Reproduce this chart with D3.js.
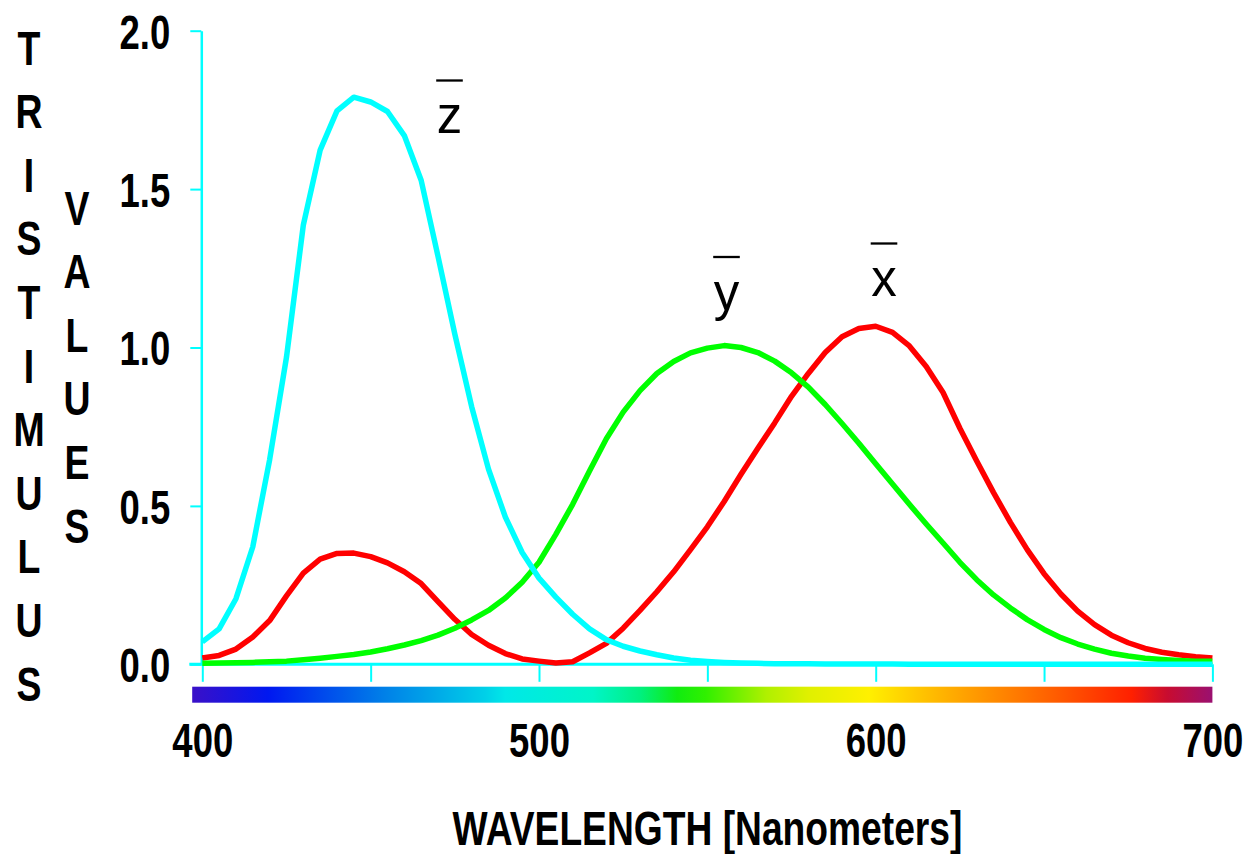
<!DOCTYPE html>
<html>
<head>
<meta charset="utf-8">
<script src="https://cdn.jsdelivr.net/npm/d3@7"></script>
<style>
  html, body { margin: 0; padding: 0; background: #ffffff; }
  svg { display: block; }
</style>
</head>
<body>
<svg id="chart" width="1245" height="854"></svg>
<script>
// ---------------- DATA ----------------
const wavelengths = [400,405,410,415,420,425,430,435,440,445,450,455,460,465,470,475,480,485,490,495,
  500,505,510,515,520,525,530,535,540,545,550,555,560,565,570,575,580,585,590,595,
  600,605,610,615,620,625,630,635,640,645,650,655,660,665,670,675,680,685,690,695,700];

const xBarValues = [0.020,0.028,0.048,0.086,0.138,0.216,0.288,0.332,0.350,0.351,0.340,0.320,0.292,0.255,0.198,0.142,0.094,0.060,0.034,0.017,
  0.010,0.004,0.008,0.036,0.066,0.114,0.170,0.229,0.292,0.362,0.434,0.514,0.600,0.682,0.762,0.846,0.918,0.984,1.034,1.060,
  1.067,1.048,1.005,0.940,0.858,0.745,0.642,0.542,0.448,0.362,0.286,0.222,0.168,0.125,0.092,0.068,0.050,0.038,0.030,0.024,0.020];

const yBarValues = [0.003,0.004,0.005,0.006,0.008,0.010,0.014,0.019,0.025,0.031,0.039,0.049,0.061,0.075,0.092,0.114,0.140,0.170,0.209,0.259,
  0.322,0.410,0.505,0.610,0.712,0.796,0.864,0.918,0.956,0.983,0.998,1.006,1.000,0.984,0.957,0.920,0.875,0.820,0.760,0.698,
  0.633,0.569,0.505,0.443,0.383,0.322,0.267,0.219,0.178,0.141,0.110,0.084,0.064,0.048,0.035,0.026,0.019,0.015,0.012,0.010,0.010];

const zBarValues = [0.071,0.112,0.207,0.371,0.646,0.969,1.386,1.623,1.747,1.790,1.775,1.745,1.669,1.528,1.288,1.042,0.813,0.616,0.465,0.353,
  0.272,0.212,0.158,0.112,0.078,0.057,0.042,0.030,0.020,0.013,0.009,0.006,0.004,0.003,0.002,0.002,0.002,0.001,0.001,0.001,
  0.001,0.001,0.000,0.000,0.000,0.000,0.000,0.000,0.000,0.000,0.000,0.000,0.000,0.000,0.000,0.000,0.000,0.000,0.000,0.000,0.000];

const xTickValues = [400,450,500,550,600,650,700];
const xTickLabels = ["400","","500","","600","","700"];
const yTickValues = [0,0.5,1.0,1.5,2.0];
const yTickLabels = ["0.0","0.5","1.0","1.5","2.0"];

const spectrumNm     = [397,419.5,454,484,490,516,530,541,549.5,567.6,580,598,612,627,652,676,686.6,700];
const spectrumColors = ["#3a10c8","#0018f0","#0080e8","#00d0e8","#00e8e8","#00f5c8","#00f080","#10ec10","#30f000","#b0f000","#e0f000","#fff000","#ffc800","#ffa000","#ff6000","#ff2000","#c80c30","#9a1070"];

const seriesNames = ["x", "y", "z"];
const xTitle = "WAVELENGTH [Nanometers]";
const yTitleCol1 = "TRISTIMULUS";
const yTitleCol2 = "VALUES";

// ---------------- CHART ----------------
const svg = d3.select("#chart");
const FONT = "'Liberation Sans', Arial, Helvetica, sans-serif";
const AXIS_COLOR = "#00ffff";

const x = d3.scaleLinear().domain([400, 700]).range([202.3, 1212.4]);
const y = d3.scaleLinear().domain([0, 2]).range([664.3, 30.7]);

// spectrum gradient bar
const defs = svg.append("defs");
const grad = defs.append("linearGradient")
  .attr("id", "spectrum")
  .attr("gradientUnits", "userSpaceOnUse")
  .attr("x1", x(spectrumNm[0])).attr("x2", x(spectrumNm[spectrumNm.length - 1]))
  .attr("y1", 0).attr("y2", 0);
const nmScale = d3.scaleLinear()
  .domain([spectrumNm[0], spectrumNm[spectrumNm.length - 1]]).range([0, 1]);
spectrumNm.forEach((nm, i) => {
  grad.append("stop").attr("offset", nmScale(nm)).attr("stop-color", spectrumColors[i]);
});
svg.append("rect")
  .attr("x", x(spectrumNm[0]))
  .attr("y", 686.7)
  .attr("width", x(spectrumNm[spectrumNm.length - 1]) - x(spectrumNm[0]))
  .attr("height", 16)
  .attr("fill", "url(#spectrum)");

// X axis
const xAxis = d3.axisBottom(x)
  .tickValues(xTickValues)
  .tickSize(17.5)
  .tickSizeOuter(0)
  .tickFormat((d, i) => xTickLabels[i]);
const gx = svg.append("g").attr("transform", `translate(0,${y(0)})`).call(xAxis);
gx.select(".domain").remove();
gx.selectAll(".tick line").attr("stroke", AXIS_COLOR).attr("stroke-width", 2);
gx.selectAll(".tick text")
  .attr("y", null).attr("dy", null)
  .attr("transform", "translate(0,92.7) scale(0.76,1)")
  .attr("fill", "#000")
  .style("font-family", FONT)
  .style("font-weight", "bold")
  .style("font-size", "48px");
svg.append("line")
  .attr("x1", x(400) - 13).attr("x2", x(700))
  .attr("y1", y(0)).attr("y2", y(0))
  .attr("stroke", AXIS_COLOR).attr("stroke-width", 3);

// Y axis
const yAxis = d3.axisLeft(y)
  .tickValues(yTickValues)
  .tickSize(11)
  .tickSizeOuter(0)
  .tickFormat((d, i) => yTickLabels[i]);
const gy = svg.append("g").attr("transform", `translate(${x(400) - 1},0)`).call(yAxis);
gy.select(".domain").attr("stroke", AXIS_COLOR).attr("stroke-width", 2.5);
gy.selectAll(".tick line").attr("stroke", AXIS_COLOR).attr("stroke-width", 2);
gy.selectAll(".tick text")
  .attr("x", null).attr("dy", null)
  .attr("transform", "translate(-31,17.3) scale(0.76,1)")
  .attr("fill", "#000")
  .style("font-family", FONT)
  .style("font-weight", "bold")
  .style("font-size", "48px");

// curves
const series = [
  { name: seriesNames[0], values: xBarValues, color: "#ff0000" },
  { name: seriesNames[1], values: yBarValues, color: "#00ff00" },
  { name: seriesNames[2], values: zBarValues, color: "#00ffff" }
];
const line = d3.line()
  .x((d, i) => x(wavelengths[i]))
  .y(d => y(d))
  .curve(d3.curveLinear);
svg.append("g").selectAll("path")
  .data(series)
  .join("path")
  .attr("d", s => line(s.values))
  .attr("fill", "none")
  .attr("stroke", s => s.color)
  .attr("stroke-width", 5.5)
  .attr("stroke-linejoin", "round")
  .attr("stroke-linecap", "butt");

// curve labels with overbars
const curveLabels = [
  { text: seriesNames[2], cx: 449.5, baseline: 133 },
  { text: seriesNames[1], cx: 726.5, baseline: 309.5 },
  { text: seriesNames[0], cx: 884, baseline: 296 }
];
const lg = svg.append("g");
curveLabels.forEach(l => {
  lg.append("text")
    .attr("x", l.cx).attr("y", l.baseline)
    .attr("text-anchor", "middle")
    .style("font-family", FONT)
    .style("font-size", "51px")
    .attr("fill", "#000")
    .text(l.text);
  lg.append("line")
    .attr("x1", l.cx - 13.3).attr("x2", l.cx + 13.3)
    .attr("y1", l.baseline - 52.5).attr("y2", l.baseline - 52.5)
    .attr("stroke", "#000").attr("stroke-width", 2.3);
});

// axis titles
svg.append("text")
  .attr("text-anchor", "middle")
  .attr("transform", "translate(707.5,845) scale(0.775,1)")
  .style("font-family", FONT)
  .style("font-weight", "bold")
  .style("font-size", "48px")
  .attr("fill", "#000")
  .text(xTitle);

function stackedTitle(str, cx, firstCenter, step) {
  const g = svg.append("g");
  str.split("").forEach((ch, i) => {
    g.append("text")
      .attr("text-anchor", "middle")
      .attr("transform", `translate(${cx},${firstCenter + i * step + 17.5}) scale(0.78,1)`)
      .style("font-family", FONT)
      .style("font-weight", "bold")
      .style("font-size", "48px")
      .attr("fill", "#000")
      .text(ch);
  });
}
stackedTitle(yTitleCol1, 29, 47, 63.6);
stackedTitle(yTitleCol2, 77, 207, 63.6);
</script>
</body>
</html>
